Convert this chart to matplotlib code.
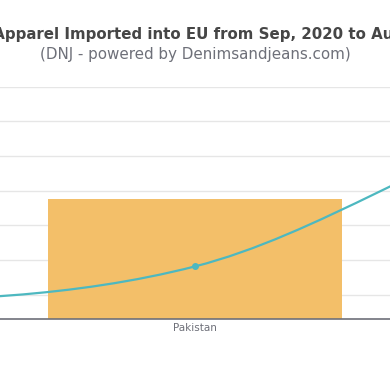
import numpy as np
import matplotlib.pyplot as plt
from matplotlib.path import Path
from matplotlib.patches import PathPatch

# Andmed (only Pakistan is inside the visible window, neighbours are estimated)
title_text = "Denim Apparel Imported into EU from Sep, 2020 to Aug, 2021"
subtitle_text = "(DNJ - powered by Denimsandjeans.com)"
countries = ["India", "Cambodia", "Pakistan", "Vietnam", "Sri Lanka"]
import_value = [52.0, 41.0, 36.0, 30.0, 24.0]
unit_price = [2.6, 1.8, 2.82, 7.2, 9.0]
price_ticks = [2, 3, 4, 5, 6, 7, 8]

bar_color = "#F3BF69"
line_color = "#4DB8C0"

fig = plt.figure(figsize=(3.9, 3.9), dpi=100)
ax = fig.add_axes([0, 71.5 / 390, 1, 232 / 390])
ax2 = ax.twinx()

x = np.arange(len(countries))
focus = countries.index("Pakistan")

# bars
ax.bar(x, import_value, width=0.8, color=bar_color, zorder=2)
ax.set_ylim(0, 70)
ax.set_xticks(x)
ax.set_xticklabels(countries)
ax.tick_params(axis="x", length=0, pad=3.5, labelsize=7.5, labelcolor="#6E7079")
ax.tick_params(axis="y", length=0, labelleft=False)
for s in ["top", "left", "right"]:
    ax.spines[s].set_visible(False)
ax.spines["bottom"].set_color("#6E7079")
ax.spines["bottom"].set_linewidth(1.2)
ax.spines["bottom"].set_zorder(3)

# gridlines come from the price axis, drawn on bar axis so bars cover them
p_lo, p_hi = 1.32, 8.0
ax2.set_ylim(p_lo, p_hi)
grid_pos = [(t - p_lo) / (p_hi - p_lo) * 70 for t in price_ticks]
for g in grid_pos:
    ax.axhline(g, color="#E6E6E6", lw=1, zorder=0)
ax2.set_yticks(price_ticks)
ax2.tick_params(axis="y", length=0, labelright=False)
for s in ax2.spines.values():
    s.set_visible(False)

# smooth line (catmull-rom bezier through the points)
pts = np.column_stack([x, unit_price]).astype(float)
verts = [pts[0]]
codes = [Path.MOVETO]
n = len(pts)
for i in range(n - 1):
    p0 = pts[max(i - 1, 0)]
    p1 = pts[i]
    p2 = pts[i + 1]
    p3 = pts[min(i + 2, n - 1)]
    verts += [p1 + (p2 - p0) / 6, p2 - (p3 - p1) / 6, p2]
    codes += [Path.CURVE4] * 3
ax2.add_patch(PathPatch(Path(verts, codes), fill=False, edgecolor=line_color, lw=1.6, zorder=4))
ax2.plot(x, unit_price, "o", ms=4, color=line_color, zorder=5)
ax2.set_ylim(p_lo, p_hi)

# only the Pakistan slot is in view
ax.set_xlim(focus - 0.531, focus + 0.531)
ax2.set_xlim(focus - 0.531, focus + 0.531)

fig.text(0.5, 1 - 35 / 390, title_text, ha="center", va="center",
         fontsize=10.8, fontweight="bold", color="#464646")
fig.text(0.5, 1 - 55 / 390, subtitle_text, ha="center", va="center",
         fontsize=10.9, color="#6E7079")

fig.savefig("out.png", dpi=100)
